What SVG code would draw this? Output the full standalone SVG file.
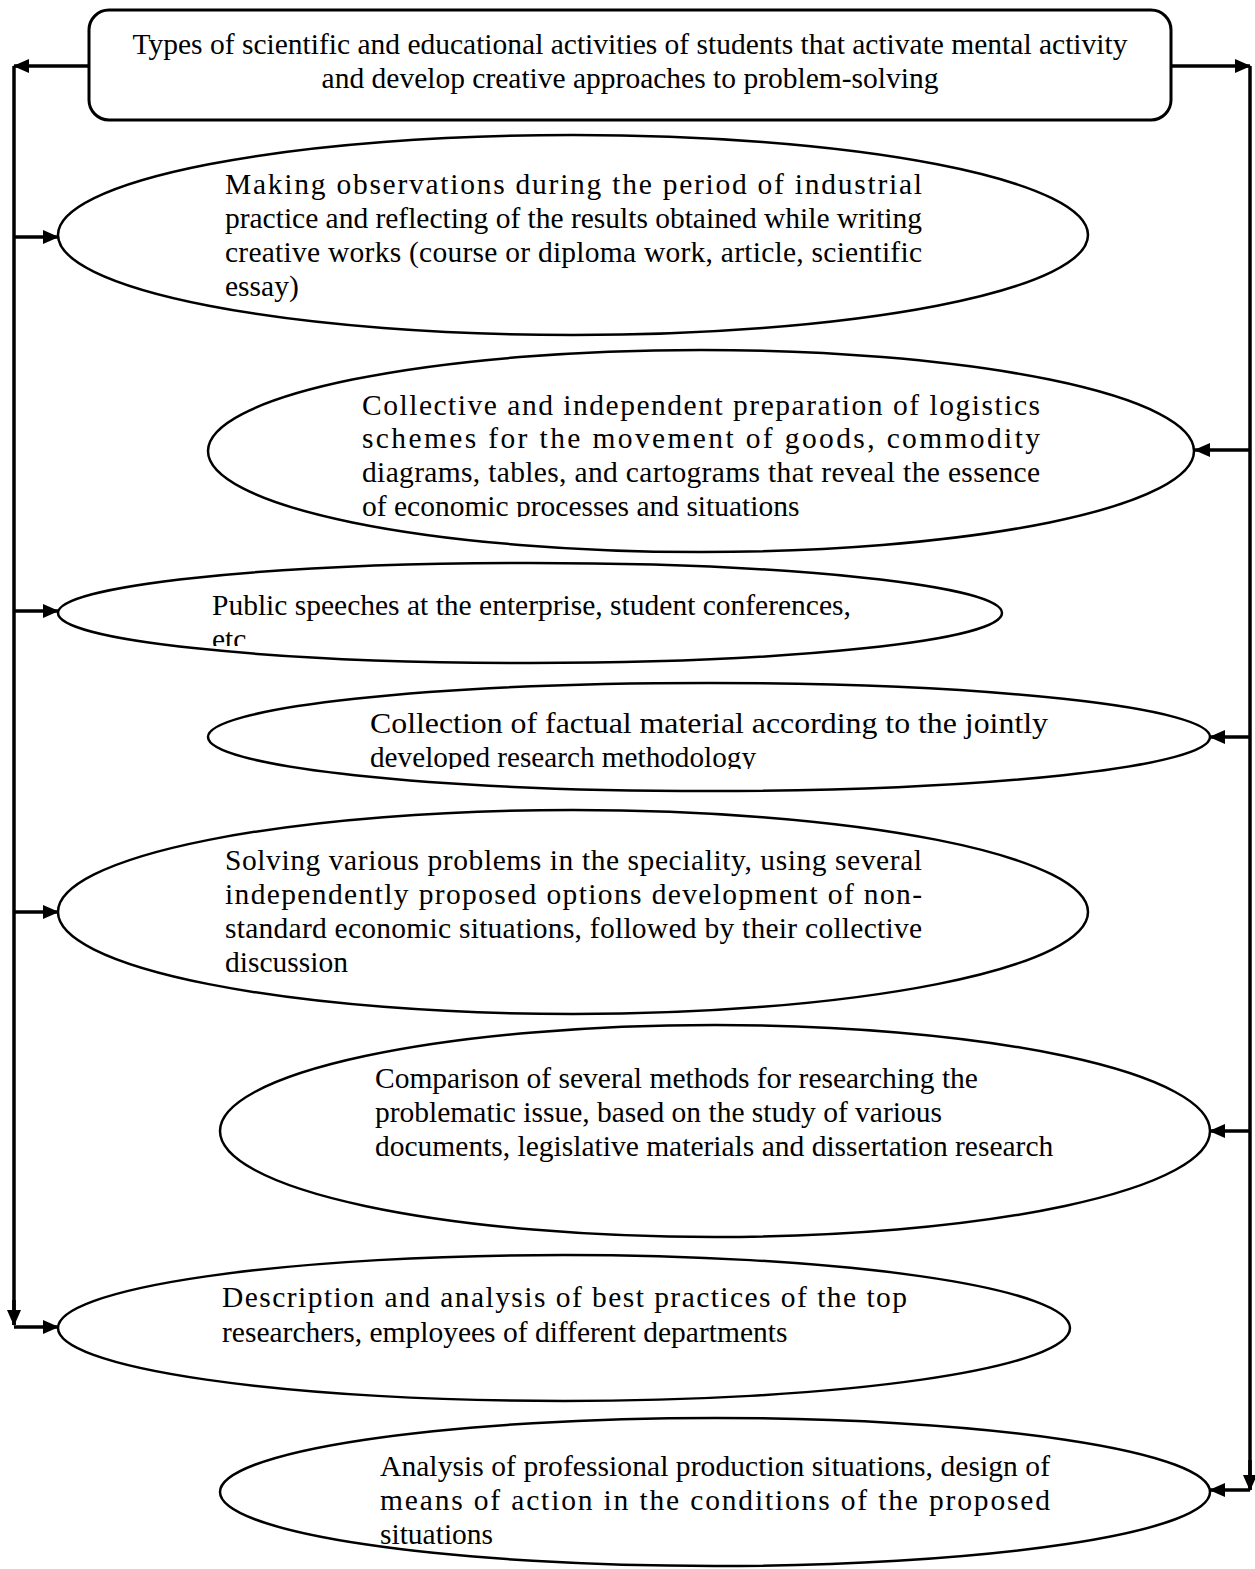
<svg xmlns="http://www.w3.org/2000/svg" width="1255" height="1569" viewBox="0 0 1255 1569">
<style>
.t{font-family:"Liberation Serif","Times New Roman",serif;font-size:29.5px;fill:#000}
.n{fill:#fff;stroke:#000;stroke-width:2.5}
.c{fill:none;stroke:#000;stroke-width:3.5}
</style>
<defs>
<marker id="ah" markerWidth="16" markerHeight="14" refX="15" refY="7" orient="auto" markerUnits="userSpaceOnUse">
<path d="M0,0 L16,7 L0,14 Z" fill="#000"/>
</marker>
<clipPath id="c2"><rect x="0" y="0" width="1255" height="517"/></clipPath>
<clipPath id="c3"><rect x="0" y="0" width="1255" height="646"/></clipPath>
<clipPath id="c4"><rect x="0" y="0" width="1255" height="769"/></clipPath>
</defs>
<rect width="1255" height="1569" fill="#fff"/>
<g id="connectors">
<path class="c" d="M89,66 H14" marker-end="url(#ah)"/>
<path class="c" d="M1171,66 H1250" marker-end="url(#ah)"/>
<path class="c" d="M14,66 V1325"/>
<path class="c" d="M14,1300 V1325" marker-end="url(#ah)"/>
<path class="c" d="M1250,66 V1490"/>
<path class="c" d="M1250,1460 V1490" marker-end="url(#ah)"/>
<path class="c" d="M14,237 H58" marker-end="url(#ah)"/>
<path class="c" d="M14,611 H58" marker-end="url(#ah)"/>
<path class="c" d="M14,912 H58" marker-end="url(#ah)"/>
<path class="c" d="M14,1327 H58" marker-end="url(#ah)"/>
<path class="c" d="M1250,450 H1195" marker-end="url(#ah)"/>
<path class="c" d="M1250,737 H1210" marker-end="url(#ah)"/>
<path class="c" d="M1250,1131 H1210" marker-end="url(#ah)"/>
<path class="c" d="M1250,1490 H1210" marker-end="url(#ah)"/>
</g>
<g id="title">
<rect x="89" y="10" width="1082" height="110" rx="20" fill="#fff" stroke="#000" stroke-width="3"/>
<text class="t" x="630" y="54" text-anchor="middle">Types of scientific and educational activities of students that activate mental activity</text>
<text class="t" x="630" y="88" text-anchor="middle">and develop creative approaches to problem-solving</text>
</g>
<g id="n1">
<ellipse class="n" cx="573" cy="235" rx="515" ry="100"/>
<text class="t" x="225" y="194" textLength="697" lengthAdjust="spacing">Making observations during the period of industrial</text>
<text class="t" x="225" y="228" textLength="697" lengthAdjust="spacing">practice and reflecting of the results obtained while writing</text>
<text class="t" x="225" y="262" textLength="697" lengthAdjust="spacing">creative works (course or diploma work, article, scientific</text>
<text class="t" x="225" y="296">essay)</text>
</g>
<g id="n2">
<ellipse class="n" cx="701" cy="451" rx="493" ry="101"/>
<g clip-path="url(#c2)">
<text class="t" x="362" y="415" textLength="678" lengthAdjust="spacing">Collective and independent preparation of logistics</text>
<text class="t" x="362" y="448" textLength="678" lengthAdjust="spacing">schemes for the movement of goods, commodity</text>
<text class="t" x="362" y="482" textLength="678" lengthAdjust="spacing">diagrams, tables, and cartograms that reveal the essence</text>
<text class="t" x="362" y="516">of economic processes and situations</text>
</g>
</g>
<g id="n3">
<ellipse class="n" cx="530" cy="613" rx="472" ry="50"/>
<g clip-path="url(#c3)">
<text class="t" x="212" y="615">Public speeches at the enterprise, student conferences,</text>
<text class="t" x="212" y="649">etc</text>
</g>
</g>
<g id="n4">
<ellipse class="n" cx="709" cy="737" rx="501" ry="54"/>
<g clip-path="url(#c4)">
<text class="t" x="370" y="733" textLength="678" lengthAdjust="spacingAndGlyphs">Collection of factual material according to the jointly</text>
<text class="t" x="370" y="767" textLength="386" lengthAdjust="spacingAndGlyphs">developed research methodology</text>
</g>
</g>
<g id="n5">
<ellipse class="n" cx="573" cy="912" rx="515" ry="102"/>
<text class="t" x="225" y="870" textLength="697" lengthAdjust="spacing">Solving various problems in the speciality, using several</text>
<text class="t" x="225" y="904" textLength="697" lengthAdjust="spacing">independently proposed options development of non-</text>
<text class="t" x="225" y="938" textLength="697" lengthAdjust="spacing">standard economic situations, followed by their collective</text>
<text class="t" x="225" y="972">discussion</text>
</g>
<g id="n6">
<ellipse class="n" cx="715" cy="1131" rx="495" ry="106"/>
<text class="t" x="375" y="1088">Comparison of several methods for researching the</text>
<text class="t" x="375" y="1122">problematic issue, based on the study of various</text>
<text class="t" x="375" y="1156">documents, legislative materials and dissertation research</text>
</g>
<g id="n7">
<ellipse class="n" cx="564" cy="1328" rx="506" ry="73"/>
<text class="t" x="222" y="1307" textLength="685" lengthAdjust="spacing">Description and analysis of best practices of the top</text>
<text class="t" x="222" y="1342">researchers, employees of different departments</text>
</g>
<g id="n8">
<ellipse class="n" cx="715" cy="1492" rx="495" ry="74"/>
<text class="t" x="380" y="1476" textLength="670" lengthAdjust="spacing">Analysis of professional production situations, design of</text>
<text class="t" x="380" y="1510" textLength="670" lengthAdjust="spacing">means of action in the conditions of the proposed</text>
<text class="t" x="380" y="1544">situations</text>
</g>
</svg>
